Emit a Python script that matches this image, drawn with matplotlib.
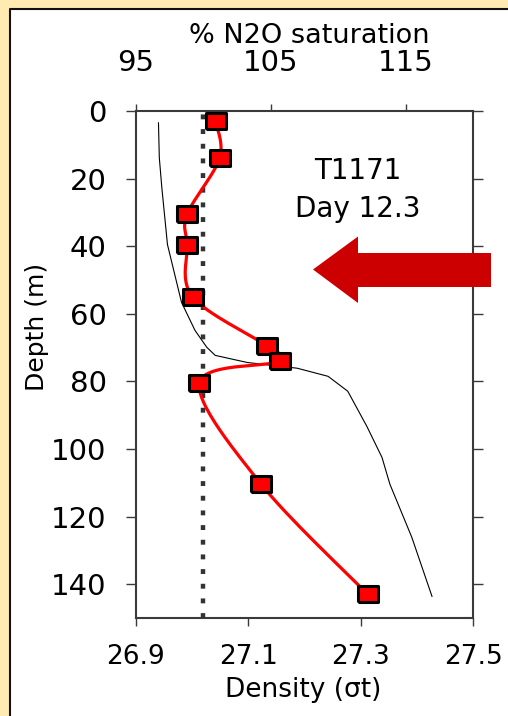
import numpy as np
import matplotlib
matplotlib.use("Agg")
import matplotlib.pyplot as plt
from matplotlib.patches import Polygon, Rectangle
from matplotlib.lines import Line2D

# ---- data ----
sat_depth = [3, 14, 30.5, 39.5, 55, 69.5, 74, 80.5, 110.5, 143]
sat_value = [100.9, 101.2, 98.8, 98.8, 99.2, 104.7, 105.7, 99.7, 104.3, 112.2]

dens_depth = [3.5, 13.8, 22.7, 39.5, 56.6, 64.9, 69.9, 72.3, 74.4, 76.1, 78.5,
              82.9, 93.3, 102.5, 110.4, 126.1, 143.6]
dens_value = [26.940, 26.9415, 26.946, 26.956, 26.981, 27.005, 27.026, 27.041,
              27.098, 27.187, 27.242, 27.277, 27.311, 27.338, 27.352, 27.391, 27.427]

saturation_ref = 100
depth_ticks = [0, 20, 40, 60, 80, 100, 120, 140]
dens_ticks = [26.9, 27.1, 27.3, 27.5]
sat_ticks = [95, 105, 115]
label_text = ["T1171", "Day 12.3"]

W, H = 508, 716
fig = plt.figure(figsize=(W / 100, H / 100), dpi=100, facecolor="white", edgecolor="white",
                 linewidth=0)


def fx(x):
    return x / W


def fy(y):
    return 1 - y / H


cream = "#FFEAB2"
# cream strips on the left and top, black frame line
fig.add_artist(Rectangle((0, 0), fx(9.5), 1, transform=fig.transFigure,
                         facecolor=cream, edgecolor="none", zorder=0, clip_on=False))
fig.add_artist(Rectangle((0, fy(8.5)), 1, 1 - fy(8.5), transform=fig.transFigure,
                         facecolor=cream, edgecolor="none", zorder=0, clip_on=False))
fig.add_artist(Line2D([fx(9.5), fx(9.5), 1.0], [0.0, fy(8.5), fy(8.5)],
                      transform=fig.transFigure, color="#111111", lw=1.5, zorder=0.5))

L, R, T, B = 136, 473, 111, 618
ax = fig.add_axes([fx(L), fy(B), fx(R) - fx(L), fy(T) - fy(B)])
ax.set_facecolor("white")
ax.set_xlim(26.9, 27.5)
ax.set_ylim(150, 0)
ax.set_xticks(dens_ticks)
ax.set_xticklabels(["%.1f" % v for v in dens_ticks])
ax.set_yticks(depth_ticks)

spine_col = "#3a3a3a"
for s in ax.spines.values():
    s.set_linewidth(1.5)
    s.set_color(spine_col)

ax.tick_params(axis="y", which="both", direction="out", length=7.2, width=1.0,
               color=spine_col, left=True, right=True, labelleft=True,
               labelright=False, labelsize=21, pad=14)
ax.tick_params(axis="x", which="both", direction="out", length=5.8, width=1.0,
               color=spine_col, bottom=True, top=False, labelsize=19, pad=13)

# density line
ax.plot(dens_value, dens_depth, color="black", lw=0.8, zorder=2)

ax2 = ax.twiny()
ax2.set_xlim(95, 120)
ax2.set_ylim(150, 0)
ax2.set_xticks(sat_ticks)
ax2.tick_params(axis="x", direction="out", length=5.2, width=1.0, color=spine_col,
                labelsize=21, pad=19)
for s in ax2.spines.values():
    s.set_visible(False)
ax2.patch.set_visible(False)

# dotted reference line at 100 %
ln = ax2.axvline(saturation_ref, color="#333333", lw=3.2, zorder=2)
ln.set_dashes((1.1, 2.2))
ln.set_dash_capstyle("butt")


def smooth(xs, ys, n=30):
    pts = np.column_stack([xs, ys]).astype(float)
    out = []
    for i in range(len(pts) - 1):
        p0 = pts[i - 1] if i > 0 else pts[i]
        p1 = pts[i]
        p2 = pts[i + 1]
        p3 = pts[i + 2] if i + 2 < len(pts) else pts[i + 1]
        c1 = p1 + (p2 - p0) / 6
        c2 = p2 - (p3 - p1) / 6
        t = np.linspace(0, 1, n)[:, None]
        seg = ((1 - t) ** 3) * p1 + 3 * ((1 - t) ** 2) * t * c1 + 3 * (1 - t) * t ** 2 * c2 + t ** 3 * p2
        out.append(seg if i == 0 else seg[1:])
    return np.vstack(out)


# smooth in pixel-proportional space
sx = (np.array(sat_value) - 95) / 25 * (R - L)
sy = np.array(sat_depth) / 150 * (B - T)
curve = smooth(sx, sy)
cx = curve[:, 0] / (R - L) * 25 + 95
cy = curve[:, 1] / (B - T) * 150
ax2.plot(cx, cy, color="#FF0000", lw=2.3, zorder=3, solid_capstyle="round")

rect_marker = [(-1.3, -1), (1.3, -1), (1.3, 1), (-1.3, 1), (-1.3, -1)]
ax2.plot(sat_value, sat_depth, linestyle="none", marker=rect_marker, markersize=14.5,
         markerfacecolor="#FF0000", markeredgecolor="black", markeredgewidth=2.2, zorder=4)

# texts
fig.text(fx(309), fy(42.7), "% N2O saturation", ha="center", va="baseline", fontsize=19.5)
fig.text(fx(303), fy(696.7), "Density (\u03c3t)", ha="center", va="baseline", fontsize=19)
fig.text(fx(44), fy(327), "Depth (m)", ha="center", va="baseline", rotation=90,
         rotation_mode="anchor", fontsize=18)
fig.text(fx(358), fy(179), label_text[0], ha="center", va="baseline", fontsize=20)
fig.text(fx(358), fy(216.7), label_text[1], ha="center", va="baseline", fontsize=20)

# big red arrow (annotation)
arrow_px = [(313, 269.5), (358, 236.5), (358, 253), (491, 253), (491, 287),
            (358, 287), (358, 303)]
fig.add_artist(Polygon([(fx(x), fy(y)) for x, y in arrow_px], closed=True,
                       transform=fig.transFigure, facecolor="#CC0000",
                       edgecolor="none", zorder=10))

fig.savefig("out.png", dpi=100, facecolor="white", edgecolor="none")
